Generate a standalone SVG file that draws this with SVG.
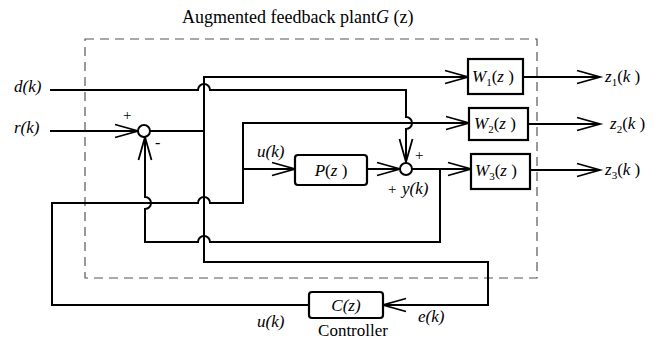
<svg xmlns="http://www.w3.org/2000/svg" width="662" height="339" viewBox="0 0 662 339">
<defs>
<marker id="arr" markerUnits="userSpaceOnUse" markerWidth="28" markerHeight="18" refX="24" refY="8" orient="auto">
<path d="M1,1.5 L24,8 L1,14.5" fill="none" stroke="#000" stroke-width="1.8"/>
</marker>
<style>
.w{fill:none;stroke:#000;stroke-width:2}
.box{fill:#fff;stroke:#000;stroke-width:2.2}
text{font-family:'Liberation Serif','Times New Roman',serif;fill:#000}
.it{font-style:italic;font-size:17px}
.sub{font-size:11px}
</style>
</defs>
<rect width="662" height="339" fill="#fff"/>
<g id="plant-boundary">
<rect x="85" y="39" width="452" height="239" fill="none" stroke="#555" stroke-width="1.2" stroke-dasharray="9,6"/>
<text x="182" y="23" font-size="18">Augmented feedback plant<tspan font-style="italic">G</tspan> (z)</text>
</g>
<g id="connectors">
<path class="w" d="M50,90 H198 A6,6 0 0 1 210,90 H406 V117 A6,6 0 0 1 406,129 V162" marker-end="url(#arr)"/>
<path class="w" d="M50,131 H138" marker-end="url(#arr)"/>
<path class="w" d="M150,131 H204"/>
<path class="w" d="M204,131 V77 H468" marker-end="url(#arr)"/>
<path class="w" d="M204,131 V262 H488 V305 H383" marker-end="url(#arr)"/>
<path class="w" d="M308,305 H52 V203 H198 A6,6 0 0 1 210,203 H243 V123 H469" marker-end="url(#arr)"/>
<path class="w" d="M243,169 H295" marker-end="url(#arr)"/>
<path class="w" d="M367,169 H400" marker-end="url(#arr)"/>
<path class="w" d="M412,169 H471" marker-end="url(#arr)"/>
<path class="w" d="M440,169 V242 H210 A6,6 0 0 0 198,242 H145 V209 A6,6 0 0 0 145,197 V137" marker-end="url(#arr)"/>
<path class="w" d="M523,77 H600" marker-end="url(#arr)"/>
<path class="w" d="M528,124 H600" marker-end="url(#arr)"/>
<path class="w" d="M530,170 H600" marker-end="url(#arr)"/>
</g>
<g id="sum1"><circle cx="144" cy="131" r="6" fill="#fff" stroke="#000" stroke-width="2"/>
<text x="123" y="120" font-size="15">+</text><text x="155" y="148" font-size="16">-</text></g>
<g id="sum2"><circle cx="406" cy="169" r="6" fill="#fff" stroke="#000" stroke-width="2"/>
<text x="415" y="160" font-size="15">+</text><text x="388" y="194" font-size="15">+</text></g>
<g id="P"><rect class="box" x="295" y="155" width="72" height="30" rx="3"/>
<text x="331" y="176" class="it" text-anchor="middle">P<tspan font-style="normal">(</tspan>z<tspan font-style="normal"> )</tspan></text></g>
<g id="W1"><rect class="box" x="468" y="59" width="55" height="35"/>
<text x="472" y="82" class="it">W<tspan class="sub" dy="4" font-style="normal">1</tspan><tspan dy="-4" font-style="normal">(</tspan>z<tspan font-style="normal"> )</tspan></text></g>
<g id="W2"><rect class="box" x="469" y="108" width="59" height="32"/>
<text x="474" y="129" class="it">W<tspan class="sub" dy="4" font-style="normal">2</tspan><tspan dy="-4" font-style="normal">(</tspan>z<tspan font-style="normal"> )</tspan></text></g>
<g id="W3"><rect class="box" x="471" y="154" width="59" height="35"/>
<text x="475" y="176" class="it">W<tspan class="sub" dy="4" font-style="normal">3</tspan><tspan dy="-4" font-style="normal">(</tspan>z<tspan font-style="normal"> )</tspan></text></g>
<g id="C"><rect class="box" x="309" y="292" width="74" height="26" rx="3"/>
<text x="346" y="311" class="it" text-anchor="middle">C(z)</text>
<text x="353" y="336" font-size="17" text-anchor="middle">Controller</text></g>
<g id="labels">
<text x="14" y="92" class="it" font-size="18">d(k)</text>
<text x="14" y="133" class="it" font-size="18">r(k)</text>
<text x="257" y="157" class="it">u(k)</text>
<text x="402" y="194" class="it">y(k)</text>
<text x="257" y="327" class="it">u(k)</text>
<text x="418" y="322" class="it">e(k)</text>
<text x="605" y="82" class="it">z<tspan class="sub" dy="4" font-style="normal">1</tspan><tspan dy="-4" font-style="normal">(</tspan>k<tspan font-style="normal"> )</tspan></text>
<text x="610" y="129" class="it">z<tspan class="sub" dy="4" font-style="normal">2</tspan><tspan dy="-4" font-style="normal">(</tspan>k<tspan font-style="normal"> )</tspan></text>
<text x="605" y="175" class="it">z<tspan class="sub" dy="4" font-style="normal">3</tspan><tspan dy="-4" font-style="normal">(</tspan>k<tspan font-style="normal"> )</tspan></text>
</g>
</svg>
